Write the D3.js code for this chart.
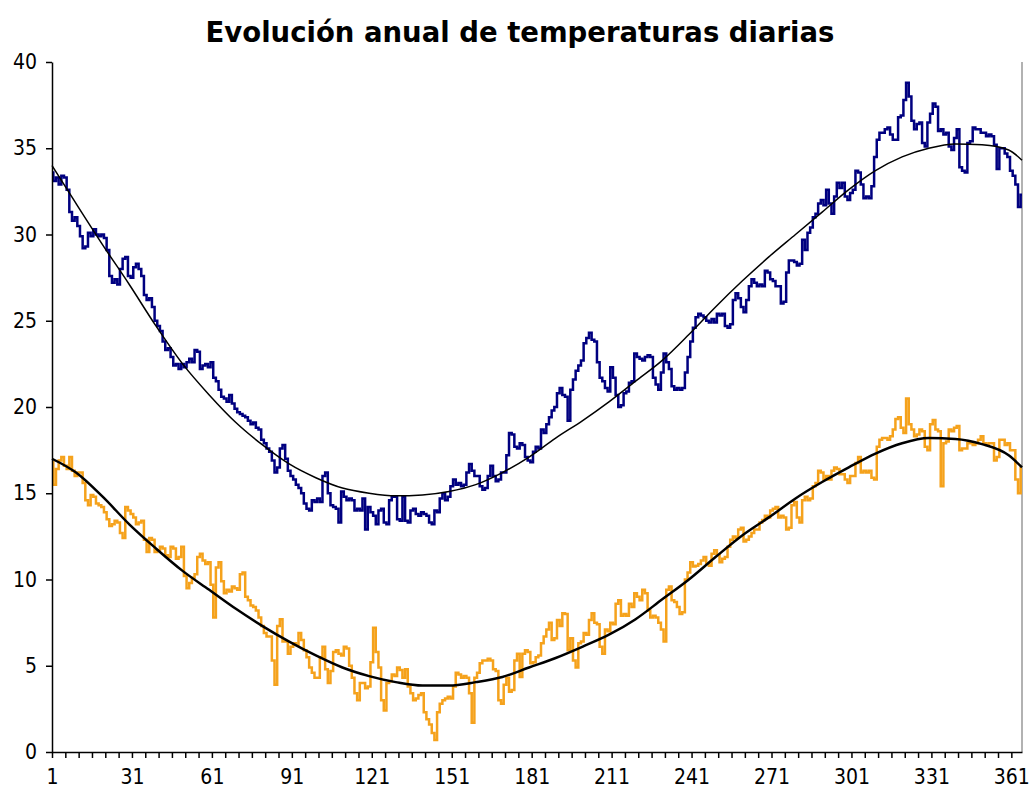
<!DOCTYPE html>
<html>
<head>
<meta charset="utf-8">
<script src="https://cdn.jsdelivr.net/npm/d3@7"></script>
<style>
  body { margin: 0; background: #fff; }
  svg { display: block; }
  .axis text { font-family: "DejaVu Sans Condensed", "DejaVu Sans", sans-serif; font-size: 21px; fill: #000; }
  .axis path, .axis line { stroke: #000; stroke-width: 1.5; }
</style>
</head>
<body>
<script>
var width = 1033, height = 796;

// temperatura maxima diaria (serie azul)
var tmax = [
  33.6,33.1,33.3,32.9,33.4,33.3,32.6,31.3,30.8,31.0,30.5,29.9,29.2,29.3,30.1,29.9,30.3,30.0,29.9,30.0,
  29.8,29.1,27.6,27.2,27.4,27.1,28.0,28.6,28.7,27.6,27.5,28.1,28.3,28.0,27.6,26.5,26.2,26.3,25.8,25.0,
  24.7,24.4,23.8,23.3,23.4,22.9,22.4,22.5,22.2,22.5,22.3,22.6,22.8,22.6,23.3,23.2,22.2,22.4,22.5,22.3,
  22.6,21.7,21.5,21.0,20.6,20.5,20.3,20.7,20.2,19.9,19.7,19.6,19.5,19.4,19.2,19.0,19.1,18.8,18.7,18.1,
  17.9,17.6,17.4,16.9,16.2,16.5,17.6,17.8,17.0,16.3,16.0,15.8,15.5,15.3,15.0,14.4,14.1,14.0,14.6,14.5,
  14.7,14.5,16.0,16.2,15.0,14.3,14.2,14.1,13.3,15.1,14.8,14.6,14.7,14.6,14.0,14.1,14.0,14.7,12.9,14.2,
  13.9,13.7,13.2,14.0,14.1,13.3,13.2,14.6,14.8,14.8,13.5,13.4,14.8,13.4,13.3,14.0,14.1,13.8,13.7,13.9,
  13.8,13.7,13.3,13.2,14.0,13.9,14.7,15.0,14.6,14.8,15.4,15.8,15.5,15.6,15.4,15.5,16.2,16.7,16.3,16.0,
  16.0,15.4,15.2,15.3,16.0,16.6,16.0,15.7,15.8,16.2,16.2,17.2,18.5,18.4,17.7,17.6,17.9,17.8,17.1,16.9,
  16.8,17.4,17.7,17.6,18.7,18.5,19.0,19.4,19.8,20.0,20.8,21.1,20.7,20.6,19.2,21.0,21.6,22.1,22.4,22.7,
  23.7,24.0,24.3,23.9,23.8,22.6,21.7,21.5,21.1,20.9,22.3,21.7,20.7,20.0,20.1,20.8,20.9,21.4,21.5,23.1,
  22.9,22.8,22.7,22.9,23.0,22.9,21.7,21.3,21.0,22.0,23.1,22.6,22.2,21.2,21.0,21.1,21.0,21.1,22.0,22.9,
  23.8,24.6,25.2,25.4,25.3,25.2,25.0,24.9,25.1,24.9,25.4,25.3,25.4,24.7,24.6,24.8,26.2,26.6,26.3,25.8,
  25.5,26.2,27.0,27.4,27.2,27.0,27.1,27.0,27.9,27.8,27.4,27.3,27.0,27.0,26.0,26.1,27.8,28.5,28.5,28.4,
  28.2,28.3,29.7,29.1,30.1,30.4,31.0,31.2,31.8,32.0,31.7,32.6,31.8,31.2,32.2,33.0,32.7,33.0,32.2,32.0,
  32.4,32.6,33.7,33.6,32.9,32.1,32.2,32.1,32.8,34.5,35.5,35.9,35.9,36.1,36.2,35.8,35.5,35.5,36.8,36.9,
  37.8,38.8,38.0,36.6,36.1,36.4,36.5,35.3,35.1,36.5,37.0,37.6,37.4,36.0,36.1,35.8,35.9,35.1,34.9,35.6,
  36.1,33.9,33.7,33.6,35.3,35.4,36.2,36.1,36.1,35.9,35.9,35.7,35.8,35.7,35.2,33.8,35.0,35.0,34.7,34.5,
  33.7,33.4,32.9,31.6,32.3
];

// temperatura minima diaria (serie naranja)
var tmin = [
  16.8,15.5,16.4,16.9,17.1,16.6,16.4,17.1,16.3,16.0,16.2,16.2,15.6,14.6,14.3,14.9,14.8,14.4,14.3,14.2,
  13.9,13.5,13.1,13.2,13.4,13.3,12.7,12.4,14.2,14.0,13.8,13.6,13.2,13.3,13.4,12.3,11.6,12.4,12.3,11.6,
  11.7,11.9,11.8,11.4,11.3,11.9,11.8,11.2,11.3,11.9,10.2,9.5,9.8,10.1,10.3,11.3,11.5,11.1,10.9,11.0,
  9.7,7.8,10.7,11.0,9.9,9.2,9.4,9.3,9.6,9.5,9.4,10.3,10.4,9.0,8.8,8.5,8.4,8.2,7.8,7.3,
  6.9,6.7,6.7,5.3,3.9,7.3,7.7,6.4,6.4,5.7,6.1,6.3,6.2,6.9,6.5,5.9,5.5,4.9,4.6,4.3,
  4.3,5.5,6.1,4.8,4.0,4.7,5.8,5.9,5.7,5.6,6.1,6.0,5.0,4.3,3.4,3.0,4.0,4.0,3.7,3.8,
  5.2,7.2,5.8,4.9,3.0,2.4,4.0,4.1,4.5,4.4,4.9,4.75,4.3,4.8,3.8,3.4,3.0,3.1,3.3,3.4,
  2.3,1.9,1.6,1.1,0.7,2.3,2.8,3.0,3.1,3.2,3.1,3.8,4.6,4.5,4.3,4.4,4.3,3.4,1.7,4.3,
  4.6,5.15,5.3,5.3,5.4,5.3,4.8,4.7,3.0,2.8,3.9,4.3,3.5,3.6,5.3,5.7,4.35,5.7,5.9,5.8,
  5.15,5.2,5.5,5.6,6.3,6.7,7.1,7.5,6.5,6.6,7.65,7.3,8.05,8.0,5.9,6.6,5.3,4.9,6.3,6.4,
  6.9,6.8,7.65,8.05,7.5,7.4,6.1,5.7,7.1,7.0,7.5,7.4,8.6,8.8,7.9,8.0,7.9,8.6,8.4,9.2,
  9.0,8.8,9.4,9.2,8.2,7.8,7.9,7.8,7.5,7.1,6.4,9.4,9.6,8.8,8.7,8.4,8.0,8.1,10.0,10.4,
  11.0,10.75,10.8,10.9,11.1,11.3,10.9,10.8,11.5,11.7,11.4,11.0,11.2,11.3,11.9,12.3,12.5,12.4,12.9,13.0,
  12.2,12.3,12.5,12.7,12.9,12.9,13.3,13.45,13.7,13.6,14.0,14.1,14.2,13.6,13.7,13.6,12.9,13.0,14.3,14.5,
  13.6,13.3,14.6,14.8,14.6,14.7,15.4,15.6,16.3,16.2,15.8,16.0,15.8,16.3,16.5,16.4,16.1,16.1,15.8,15.6,
  16.0,16.0,16.75,17.1,16.2,16.3,16.2,16.3,15.9,15.8,17.7,18.1,18.2,18.2,18.1,18.3,18.7,19.3,19.4,18.8,
  18.5,20.5,19.0,18.7,18.3,18.4,18.7,18.6,17.7,17.5,19.0,19.25,18.7,18.6,15.4,17.9,18.0,18.7,18.6,18.8,
  18.9,17.5,17.6,17.6,17.9,17.9,17.8,17.9,18.1,18.3,17.9,17.8,17.9,17.9,16.9,17.1,18.1,18.1,17.8,17.9,
  17.5,17.5,15.8,15.0,16.5
];

// lineas de tendencia
var trendDays = [1,10,20,30,40,50,60,70,80,90,100,110,120,130,140,150,160,170,180,190,200,
                 210,220,230,240,250,260,270,280,290,300,310,320,330,340,350,360,365];
var trendMax = [34.0,31.8,29.4,27.1,24.7,22.5,20.7,19.1,17.8,16.7,15.9,15.3,15.0,14.85,14.9,15.1,
                15.5,16.2,17.1,18.2,19.2,20.3,21.5,22.7,24.2,25.8,27.3,28.7,30.0,31.3,32.6,33.7,
                34.5,35.0,35.25,35.2,34.9,34.3];
var trendMin = [17.0,16.2,14.8,13.2,11.8,10.5,9.4,8.3,7.3,6.4,5.6,4.9,4.4,4.05,3.85,3.85,
                4.05,4.35,4.9,5.45,6.1,6.8,7.7,8.85,10.0,11.3,12.55,13.6,14.7,15.65,16.5,17.3,
                17.9,18.2,18.15,17.85,17.2,16.5];

var yTicks = [0, 5, 10, 15, 20, 25, 30, 35, 40];

var svg = d3.select("body")
    .append("svg")
    .attr("width", width)
    .attr("height", height);

var x = d3.scaleLinear().domain([1, 365]).range([52, 1022]);
var y = d3.scaleLinear().domain([0, 40]).range([752, 62]);

// titulo
svg.append("text")
    .attr("x", 520)
    .attr("y", 42)
    .attr("text-anchor", "middle")
    .style("font-family", "'DejaVu Sans', sans-serif")
    .style("font-weight", "bold")
    .style("font-size", "27.5px")
    .text("Evolución anual de temperaturas diarias");

// borde derecho del area de trazado
svg.append("line")
    .attr("x1", x(365)).attr("x2", x(365))
    .attr("y1", y(40)).attr("y2", y(0))
    .attr("stroke", "#999")
    .attr("stroke-width", 1.5);

var line = d3.line()
    .x(function (d, i) { return x(i + 1); })
    .y(function (d) { return y(d); })
    .curve(d3.curveStep);

var trendLine = d3.line()
    .x(function (d, i) { return x(trendDays[i]); })
    .y(function (d) { return y(d); })
    .curve(d3.curveMonotoneX);

svg.append("path")
    .datum(tmax)
    .attr("d", line)
    .attr("fill", "none")
    .attr("stroke", "#000080")
    .attr("stroke-width", 2.5);

svg.append("path")
    .datum(tmin)
    .attr("d", line)
    .attr("fill", "none")
    .attr("stroke", "#f5a21c")
    .attr("stroke-width", 2.5);

svg.append("path")
    .datum(trendMax)
    .attr("d", trendLine)
    .attr("fill", "none")
    .attr("stroke", "#000")
    .attr("stroke-width", 1.5);

svg.append("path")
    .datum(trendMin)
    .attr("d", trendLine)
    .attr("fill", "none")
    .attr("stroke", "#000")
    .attr("stroke-width", 2.5);

// ejes
svg.append("g")
    .attr("class", "axis")
    .attr("transform", "translate(0," + y(0) + ")")
    .call(d3.axisBottom(x)
        .tickValues(d3.range(1, 366, 5))
        .tickSize(6)
        .tickSizeOuter(0)
        .tickFormat(function (d) { return (d - 1) % 30 === 0 ? d : ""; }))
    .call(function (g) { g.selectAll("text").attr("dy", "1.1em"); });

svg.append("g")
    .attr("class", "axis")
    .attr("transform", "translate(" + x(1) + ",0)")
    .call(d3.axisLeft(y)
        .tickValues(yTicks)
        .tickSize(6)
        .tickSizeOuter(0)
        .tickPadding(9));
</script>
</body>
</html>
